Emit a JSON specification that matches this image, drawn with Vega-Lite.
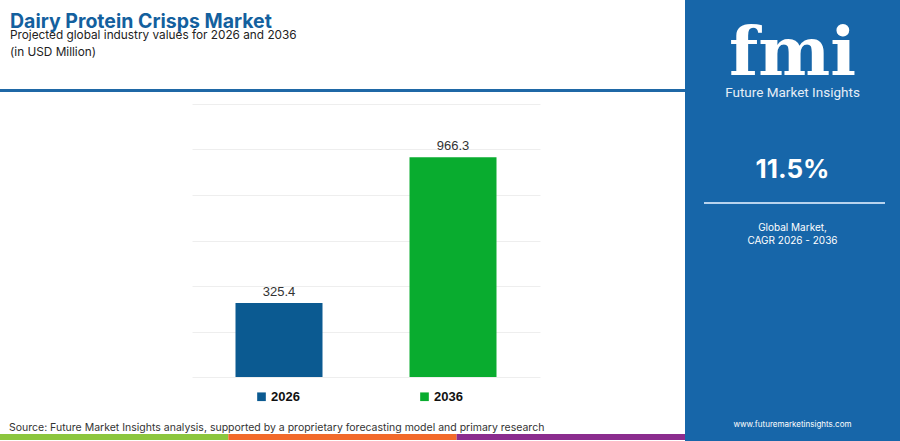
{
  "$schema": "https://vega.github.io/schema/vega-lite/v6.json",
  "background": "white",
  "padding": 0,
  "spacing": 0,
  "config": {
    "view": {"stroke": null},
    "concat": {"spacing": 0},
    "font": "Inter"
  },
  "resolve": {"scale": {"x": "independent", "y": "independent", "color": "independent"}, "legend": {"color": "independent"}},
  "hconcat": [
    {
      "spacing": 0,
      "resolve": {"scale": {"x": "independent", "y": "independent", "color": "independent"}, "legend": {"color": "independent"}},
      "vconcat": [
        {
          "width": 685, "height": 11,
          "data": {"values": []},
          "mark": {"type": "text"},
          "encoding": {"text": {"value": ""}}
        },
        {
          "width": 685, "height": 3,
          "view": {"fill": "#1f68a6", "stroke": null},
          "title": {
            "text": "Dairy Protein Crisps Market",
            "subtitle": ["Projected global industry values for 2026 and 2036", "(in USD Million)"],
            "anchor": "start",
            "dx": 10,
            "font": "Inter",
            "fontSize": 19.5,
            "fontWeight": "bold",
            "color": "#13609e",
            "subtitleFont": "Inter",
            "subtitleFontSize": 11.8,
            "subtitleColor": "#222222",
            "subtitleLineHeight": 17,
            "subtitlePadding": -2,
            "offset": 29
          },
          "data": {"values": []},
          "mark": {"type": "text"},
          "encoding": {"text": {"value": ""}}
        },
        {
          "width": 685, "height": 12,
          "data": {"values": []},
          "mark": {"type": "text"},
          "encoding": {"text": {"value": ""}}
        },
        {
          "spacing": 0,
          "resolve": {"scale": {"x": "independent", "y": "independent", "color": "independent"}, "legend": {"color": "independent"}},
          "hconcat": [
            {
              "width": 192, "height": 273,
              "data": {"values": []},
              "mark": {"type": "text"},
              "encoding": {"text": {"value": ""}}
            },
            {
              "width": 348, "height": 273,
              "data": {"values": [
                {"year": "2026", "value": 325.4},
                {"year": "2036", "value": 966.3}
              ]},
              "encoding": {
                "x": {"field": "year", "type": "nominal", "axis": null,
                      "scale": {"paddingInner": 0.5, "paddingOuter": 0.25}},
                "y": {"field": "value", "type": "quantitative",
                      "scale": {"domain": [0, 1200], "nice": false},
                      "axis": {"values": [0, 200, 400, 600, 800, 1000, 1200], "labels": false, "ticks": false,
                               "domain": false, "title": null, "grid": true, "gridColor": "#eeeeee",
                               "gridWidth": 1, "minExtent": 0, "maxExtent": 0}}
              },
              "layer": [
                {
                  "mark": {"type": "bar"},
                  "encoding": {
                    "color": {"field": "year", "type": "nominal",
                              "scale": {"domain": ["2026", "2036"], "range": ["#0b5a91", "#09ac2f"]},
                              "legend": {"orient": "none", "legendX": 63, "legendY": 286,
                                         "direction": "horizontal", "title": null,
                                         "symbolType": "square", "symbolSize": 75, "symbolStrokeWidth": 0,
                                         "symbolOpacity": 1,
                                         "labelFont": "Liberation Sans", "labelFontSize": 13,
                                         "labelFontWeight": "bold", "labelColor": "#111111",
                                         "labelOffset": 3, "columnPadding": 118, "padding": 0}}
                  }
                },
                {
                  "mark": {"type": "text", "baseline": "alphabetic", "dy": -7,
                           "font": "Liberation Sans", "fontSize": 13, "color": "#333333"},
                  "encoding": {"text": {"field": "value", "type": "quantitative", "format": ".1f"}}
                }
              ]
            }
          ]
        },
        {
          "width": 685, "height": 18,
          "data": {"values": []},
          "mark": {"type": "text"},
          "encoding": {"text": {"value": ""}}
        },
        {
          "width": 685, "height": 6,
          "title": {
            "text": "Source: Future Market Insights analysis, supported by a proprietary forecasting model and primary research",
            "anchor": "start",
            "dx": 9,
            "font": "Inter",
            "fontSize": 10.5,
            "fontWeight": "normal",
            "color": "#333333",
            "offset": 1
          },
          "data": {"values": [{"seg": "a"}, {"seg": "b"}, {"seg": "c"}]},
          "mark": {"type": "rect"},
          "encoding": {
            "x": {"field": "seg", "type": "nominal", "axis": null,
                  "scale": {"paddingInner": 0, "paddingOuter": 0}},
            "color": {"field": "seg", "type": "nominal", "legend": null,
                      "scale": {"domain": ["a", "b", "c"], "range": ["#8cc63e", "#f26a2b", "#8b2c8e"]}}
          }
        }
      ]
    },
    {
      "spacing": 0,
      "resolve": {"scale": {"x": "independent", "y": "independent", "color": "independent"}, "legend": {"color": "independent"}},
      "vconcat": [
        {
          "width": 215, "height": 150,
          "view": {"fill": "#1766a9", "stroke": null},
          "data": {"values": [{"logo": "fmi", "name": "Future Market Insights"}]},
          "layer": [
            {
              "mark": {"type": "text", "baseline": "alphabetic", "font": "DejaVu Serif", "fontWeight": "bold",
                       "fontSize": 68, "color": "#ffffff"},
              "encoding": {"text": {"field": "logo", "type": "nominal"}}
            },
            {
              "mark": {"type": "text", "baseline": "alphabetic", "dy": 22, "font": "Roboto",
                       "fontSize": 13.5, "color": "#e6eef7"},
              "encoding": {"text": {"field": "name", "type": "nominal"}}
            }
          ]
        },
        {
          "width": 215, "height": 40,
          "view": {"fill": "#1766a9", "stroke": null},
          "data": {"values": [{"cagr": "11.5%"}]},
          "mark": {"type": "text", "baseline": "middle", "font": "Inter", "fontWeight": "bold",
                   "fontSize": 26, "color": "#ffffff"},
          "encoding": {"text": {"field": "cagr", "type": "nominal"}}
        },
        {
          "width": 215, "height": 12,
          "view": {"fill": "#1766a9", "stroke": null},
          "data": {"values": []},
          "mark": {"type": "text"},
          "encoding": {"text": {"value": ""}}
        },
        {
          "spacing": 0,
          "hconcat": [
            {
              "width": 19, "height": 2,
              "view": {"fill": "#1766a9", "stroke": null},
              "data": {"values": []},
              "mark": {"type": "text"},
              "encoding": {"text": {"value": ""}}
            },
            {
              "width": 181, "height": 2,
              "view": {"fill": "#b8d3ee", "stroke": null},
              "data": {"values": []},
              "mark": {"type": "text"},
              "encoding": {"text": {"value": ""}}
            },
            {
              "width": 15, "height": 2,
              "view": {"fill": "#1766a9", "stroke": null},
              "data": {"values": []},
              "mark": {"type": "text"},
              "encoding": {"text": {"value": ""}}
            }
          ]
        },
        {
          "width": 215, "height": 48,
          "view": {"fill": "#1766a9", "stroke": null},
          "data": {"values": [{"note": ["Global Market,", "CAGR 2026 - 2036"]}]},
          "mark": {"type": "text", "baseline": "middle", "font": "Inter", "fontSize": 10,
                   "lineHeight": 13, "color": "#ffffff"},
          "encoding": {"text": {"field": "note", "type": "nominal"}}
        },
        {
          "width": 215, "height": 157,
          "view": {"fill": "#1766a9", "stroke": null},
          "data": {"values": []},
          "mark": {"type": "text"},
          "encoding": {"text": {"value": ""}}
        },
        {
          "width": 215, "height": 32,
          "view": {"fill": "#1766a9", "stroke": null},
          "data": {"values": [{"site": "www.futuremarketinsights.com"}]},
          "mark": {"type": "text", "baseline": "middle", "font": "Inter", "fontSize": 8, "color": "#ffffff"},
          "encoding": {"text": {"field": "site", "type": "nominal"}}
        }
      ]
    }
  ]
}
